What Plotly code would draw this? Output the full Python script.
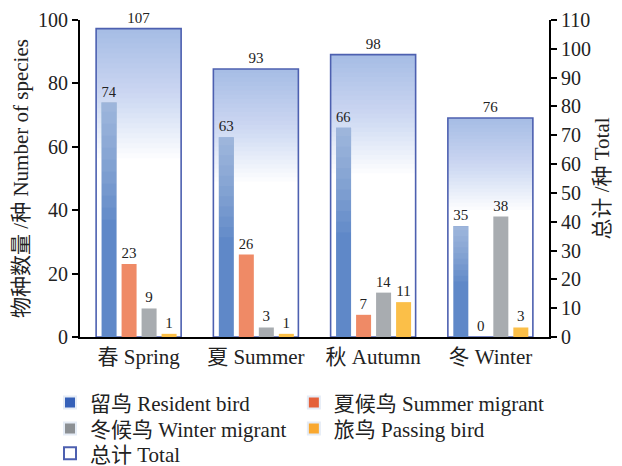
import plotly.graph_objects as go
import numpy as np

seasons = ["春 Spring", "夏 Summer", "秋 Autumn", "冬 Winter"]
resident = [74, 63, 66, 35]
summer = [23, 26, 7, 0]
winter = [9, 3, 14, 38]
passing = [1, 1, 11, 3]
total = [107, 93, 98, 76]

series_names = ["留鸟 Resident bird", "夏候鸟 Summer migrant", "冬候鸟 Winter migrant", "旅鸟 Passing bird"]
series_vals = [resident, summer, winter, passing]
bar_colors = ["#5f88c8", "#ef8a66", "#a8acb0", "#fbbf48"]
legend_colors = ["#3560b8", "#e4603a", "#8c9094", "#f9a830"]
legend_ids = ["legend", "legend2", "legend3", "legend4"]

FONT = "Liberation Serif, Times New Roman, Noto Sans CJK SC, serif"
TXT = "#222222"

fig = go.Figure()

tw = 0.725
toff = -tw / 2
# white base of total bars (right axis = yaxis)
fig.add_trace(go.Bar(x=seasons, y=total, yaxis="y", width=tw, offset=toff,
                     marker=dict(color="white", line=dict(width=0)),
                     showlegend=False, hoverinfo="skip"))
# gradient layers from the top of total bars
n_layers = 26
tv = np.array(total, dtype=float)
for f in np.linspace(0.015, 0.42, n_layers):
    fig.add_trace(go.Bar(x=seasons, y=tv * f, base=tv * (1 - f), yaxis="y",
                         width=tw, offset=toff,
                         marker=dict(color="rgba(80,128,205,0.022)", line=dict(width=0)),
                         showlegend=False, hoverinfo="skip"))
# outline + label of totals
fig.add_trace(go.Bar(x=seasons, y=total, yaxis="y", width=tw, offset=toff,
                     name="总计 Total", legend="legend5",
                     marker=dict(color="rgba(255,255,255,0)", line=dict(color="#4d60b0", width=1.6)),
                     text=total, textposition="outside", cliponaxis=False,
                     textfont=dict(family=FONT, size=15, color=TXT), showlegend=True))

bw = 0.128
pitch = 0.1706
start = -0.316
for i, (nm, vals) in enumerate(zip(series_names, series_vals)):
    fig.add_trace(go.Bar(x=seasons, y=vals, yaxis="y2", width=bw, offset=start + i * pitch,
                         marker=dict(color=bar_colors[i], line=dict(width=0)),
                         text=vals, textposition="outside", cliponaxis=False,
                         textfont=dict(family=FONT, size=15, color=TXT),
                         showlegend=False, name=nm))
    if i == 0:
        rv = np.array(vals, dtype=float)
        for f in np.linspace(0.04, 0.5, 10):
            fig.add_trace(go.Bar(x=seasons, y=rv * f, base=rv * (1 - f), yaxis="y2", width=bw,
                                 offset=start + i * pitch,
                                 marker=dict(color="rgba(255,255,255,0.05)", line=dict(width=0)),
                                 showlegend=False, hoverinfo="skip"))

# legend entries
for i, nm in enumerate(series_names):
    fig.add_trace(go.Bar(x=[None], y=[None], yaxis="y2", name=nm, legend=legend_ids[i],
                         marker=dict(color=legend_colors[i])))

leg_common = dict(orientation="h", xanchor="left", yanchor="middle",
                  font=dict(size=21), tracegroupgap=0, itemsizing="constant",
                  bgcolor="rgba(0,0,0,0)")
c1, c2 = -0.064, 0.456
r1, r2, r3 = -0.208, -0.290, -0.368

fig.update_layout(
    width=614, height=458,
    margin=dict(l=72, r=73, t=12, b=129, autoexpand=False),
    barmode="overlay",
    paper_bgcolor="white", plot_bgcolor="white",
    font=dict(family=FONT, size=20, color=TXT),
    xaxis=dict(showline=True, linecolor="black", linewidth=2, ticks="",
               tickfont=dict(size=21), range=[-0.5, 3.5], automargin=False),
    yaxis=dict(range=[0, 110], dtick=10, side="right",
               showline=True, linecolor="black", linewidth=2,
               ticks="outside", ticklen=6, tickwidth=2, tickcolor="black",
               showgrid=False, zeroline=False, tickfont=dict(size=20), automargin=False,
               title=dict(text="总计 /种 Total", font=dict(size=21), standoff=4)),
    yaxis2=dict(range=[0, 100], dtick=20, overlaying="y", side="left",
                showline=True, linecolor="black", linewidth=2,
                ticks="outside", ticklen=6, tickwidth=2, tickcolor="black",
                showgrid=False, zeroline=False, tickfont=dict(size=20), automargin=False,
                title=dict(text="物种数量 /种 Number of species", font=dict(size=21), standoff=4)),
    legend=dict(leg_common, x=c1, y=r1),
    legend2=dict(leg_common, x=c2, y=r1),
    legend3=dict(leg_common, x=c1, y=r2),
    legend4=dict(leg_common, x=c2, y=r2),
    legend5=dict(leg_common, x=c1, y=r3),
    showlegend=True,
)

fig.write_html("out.html")
